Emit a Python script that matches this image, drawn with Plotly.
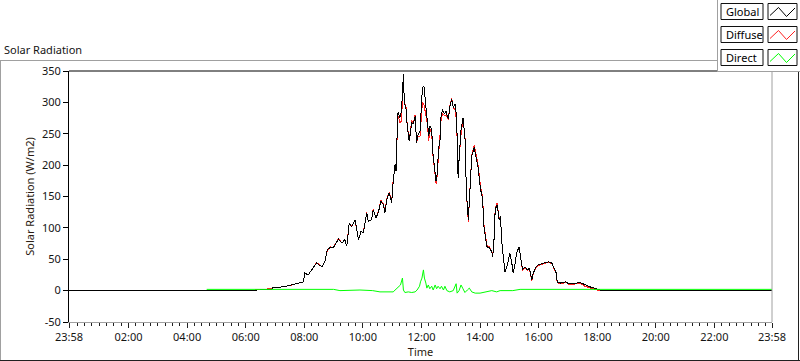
import plotly.graph_objects as go

PREV_DAY = "2024-04-30"
DAY = "2024-05-01"

# ---- data (times HH:MM, first point is 23:58 of previous day) ----
global_time = [
    "23:58", "06:09", "06:29", "06:53", "06:56", "07:17", "07:34", "07:51", "07:58",
    "08:01", "08:08", "08:15", "08:25", "08:36", "08:42", "08:47", "08:53", "08:59",
    "09:10", "09:17", "09:23", "09:27", "09:32", "09:37", "09:44", "09:51", "09:56",
    "10:01", "10:08", "10:11", "10:18", "10:21", "10:27", "10:32", "10:37", "10:42",
    "10:45", "10:49", "10:54", "10:59", "11:02", "11:06", "11:08", "11:10", "11:12",
    "11:16", "11:19", "11:23", "11:25", "11:28", "11:31", "11:35", "11:38", "11:40",
    "11:43", "11:47", "11:50", "11:53", "11:57", "12:00", "12:02", "12:05", "12:07",
    "12:09", "12:12", "12:15", "12:17", "12:21", "12:23", "12:26", "12:30", "12:32",
    "12:35", "12:38", "12:40", "12:43", "12:47", "12:50", "12:55", "12:58", "13:02",
    "13:05", "13:09", "13:12", "13:14", "13:15", "13:17", "13:21", "13:25", "13:29",
    "13:32", "13:36", "13:39", "13:43", "13:48", "13:52", "13:56", "14:01", "14:05",
    "14:08", "14:14", "14:19", "14:24", "14:26", "14:29", "14:31", "14:35", "14:39",
    "14:42", "14:44", "14:48", "14:51", "14:55", "14:58", "15:01", "15:05", "15:08",
    "15:12", "15:15", "15:20", "15:23", "15:27", "15:32", "15:37", "15:41", "15:46",
    "15:49", "15:55", "15:59", "16:06", "16:13", "16:20", "16:27", "16:31", "16:36",
    "16:38", "16:44", "16:50", "16:56", "17:01", "17:11", "17:25", "17:35", "17:45",
    "17:55", "18:04", "18:10", "23:58",
]
global_val = [
    0, 0, 1, 2, 5, 6, 9, 13, 14,
    28, 25, 33, 44, 38, 46, 65, 69, 68,
    82, 76, 81, 71, 107, 102, 113, 81, 94,
    93, 124, 110, 113, 129, 116, 126, 142, 137,
    124, 145, 156, 140, 174, 201, 190, 246, 284,
    276, 286, 345, 297, 294, 260, 238, 254, 268,
    265, 278, 236, 249, 254, 308, 324, 326, 308,
    292, 270, 246, 262, 257, 222, 204, 174, 185,
    225, 241, 276, 289, 281, 286, 273, 292, 305,
    292, 297, 276, 190, 180, 209, 257, 275, 246,
    158, 113, 156, 214, 228, 209, 196, 161, 148,
    102, 70, 68, 62, 54, 86, 129, 137, 113,
    118, 81, 54, 30, 38, 52, 60, 44, 28,
    44, 60, 70, 54, 33, 38, 33, 36, 17,
    28, 38, 41, 43, 45, 46, 44, 38, 28,
    14, 12, 13, 14, 11, 11, 13, 9, 6,
    4, 1, 0, 0,
]
diffuse_val = [
    0, 0, 2, 3, 5, 6, 9, 13, 14,
    27, 25, 33, 45, 38, 46, 64, 70, 68,
    83, 76, 80, 71, 108, 102, 112, 81, 94,
    93, 125, 110, 113, 130, 116, 127, 144, 138,
    125, 147, 157, 141, 176, 200, 190, 243, 278,
    268, 270, 340, 299, 296, 262, 240, 257, 271,
    267, 280, 235, 246, 246, 292, 300, 296, 290,
    280, 265, 238, 259, 250, 220, 198, 170, 182,
    219, 238, 270, 283, 279, 280, 272, 294, 306,
    292, 288, 268, 194, 182, 209, 249, 272, 249,
    157, 110, 157, 216, 232, 213, 200, 165, 151,
    105, 72, 70, 62, 55, 87, 131, 140, 115,
    118, 81, 54, 30, 38, 52, 60, 44, 28,
    44, 60, 69, 53, 32, 37, 32, 35, 16,
    27, 37, 40, 42, 44, 45, 43, 37, 27,
    13, 11, 12, 13, 10, 10, 11, 7, 4,
    2, 0, 0, 0,
]

direct_time = [
    "04:40", "06:09", "08:53", "09:00", "09:13", "09:54", "10:20", "10:35", "11:02",
    "11:06", "11:12", "11:17", "11:21", "11:23", "11:26", "11:33", "11:40", "11:47",
    "11:51", "11:56", "11:58", "12:01", "12:04", "12:06", "12:09", "12:11", "12:14",
    "12:17", "12:21", "12:24", "12:28", "12:31", "12:34", "12:38", "12:41", "12:45",
    "12:48", "12:52", "12:58", "13:05", "13:11", "13:13", "13:17", "13:21", "13:25",
    "13:29", "13:34", "13:38", "13:43", "13:50", "14:00", "14:07", "14:14", "14:24",
    "14:34", "14:41", "15:07", "15:22", "23:58",
]
direct_val = [
    2, 2, 2, 2, 0, 1, 0, -2, -2,
    1, 6, 9, 20, 1, -3, -2, -3, -2,
    1, 7, 14, 20, 33, 20, 12, 4, 9,
    3, 7, 1, 9, 3, 7, 3, 7, 1,
    7, 0, -2, 0, 11, -4, 0, 9, 3,
    -3, 1, 4, -2, -4, -4, -3, -2, 0,
    -2, 0, 0, 2, 2,
]

x_tick_labels = ["23:58", "02:00", "04:00", "06:00", "08:00", "10:00", "12:00",
                 "14:00", "16:00", "18:00", "20:00", "22:00", "23:58"]
y_tick_vals = [-50, 0, 50, 100, 150, 200, 250, 300, 350]
y_tick_labels = ["-50", "0", "50", "100", "150", "200", "250", "300", "350"]

series_names = ["Global", "Diffuse", "Direct"]
series_colors = ["#000000", "#ff2020", "#00ff00"]


def full_times(times, first_prev=False):
    out = []
    for i, t in enumerate(times):
        day = PREV_DAY if (first_prev and i == 0) else DAY
        out.append(f"{day} {t}")
    return out


gx = full_times(global_time, first_prev=True)
dx = full_times(direct_time)

tick_vals = [f"{PREV_DAY} 23:58"] + [f"{DAY} {lbl}" for lbl in x_tick_labels[1:-1]] + [f"{DAY} 23:58"]

FONT = "Noto Sans"
TXT = "#141414"

fig = go.Figure()
# draw order: diffuse under global, direct on top
fig.add_trace(go.Scatter(x=gx, y=diffuse_val, mode="lines", name=series_names[1],
                         line=dict(color=series_colors[1], width=1), showlegend=False))
fig.add_trace(go.Scatter(x=gx, y=global_val, mode="lines", name=series_names[0],
                         line=dict(color=series_colors[0], width=1), showlegend=False))
fig.add_trace(go.Scatter(x=dx, y=direct_val, mode="lines", name=series_names[2],
                         line=dict(color=series_colors[2], width=1), showlegend=False))

# ---- pixel helpers for decorations (plot area: x 69..772, y 71..322) ----
L, R, T, B = 69, 772, 71, 322


def px(x):
    return (x - L) / (R - L)


def py(y):
    return (B - y) / (B - T)


shapes = []
# outer frame (gray top/left, dark bottom/right)
shapes.append(dict(type="line", xref="paper", yref="paper", x0=px(0), x1=px(800), y0=py(60.5), y1=py(60.5),
                   line=dict(color="#a0a0a0", width=1)))
shapes.append(dict(type="line", xref="paper", yref="paper", x0=px(0.5), x1=px(0.5), y0=py(60.5), y1=py(361),
                   line=dict(color="#a0a0a0", width=1)))
shapes.append(dict(type="line", xref="paper", yref="paper", x0=px(0), x1=px(800), y0=py(360.5), y1=py(360.5),
                   line=dict(color="#202020", width=1)))
shapes.append(dict(type="line", xref="paper", yref="paper", x0=px(798.5), x1=px(798.5), y0=py(60), y1=py(361),
                   line=dict(color="#202020", width=1)))
# plot frame: top black, right gray
shapes.append(dict(type="line", xref="paper", yref="paper", x0=0, x1=1, y0=1, y1=1,
                   line=dict(color="#000000", width=1)))
shapes.append(dict(type="line", xref="paper", yref="paper", x0=1, x1=1, y0=0, y1=1,
                   line=dict(color="#a0a0a0", width=1)))
# legend panel
shapes.append(dict(type="rect", xref="paper", yref="paper", x0=px(717.5), x1=px(801), y0=py(71.5), y1=py(-1),
                   fillcolor="white", line=dict(color="#a0a0a0", width=1), layer="above"))

annotations = []
row_tops = [3.5, 26.5, 49.5]
for name, color, top in zip(series_names, series_colors, row_tops):
    bot = top + 16
    shapes.append(dict(type="rect", xref="paper", yref="paper", x0=px(721), x1=px(763), y0=py(bot), y1=py(top),
                       fillcolor="white", line=dict(color="#101010", width=1), layer="above"))
    shapes.append(dict(type="rect", xref="paper", yref="paper", x0=px(768), x1=px(797), y0=py(bot), y1=py(top),
                       fillcolor="white", line=dict(color="#101010", width=1), layer="above"))
    pts = [(770, top + 12), (778.5, top + 4), (786.5, top + 13), (795, top + 4.5)]
    path = "M " + " L ".join(f"{px(a):.5f},{py(b):.5f}" for a, b in pts)
    shapes.append(dict(type="path", xref="paper", yref="paper", path=path,
                       line=dict(color=color, width=1), layer="above"))
    annotations.append(dict(text=name, xref="paper", yref="paper", x=px(723.5), y=py(top + 8),
                            xanchor="left", yanchor="middle", showarrow=False,
                            font=dict(family=FONT, size=11, color="#000000")))

fig.update_layout(
    width=800, height=361, autosize=False,
    margin=dict(l=L, r=800 - R, t=T, b=361 - B, pad=0, autoexpand=False),
    paper_bgcolor="white", plot_bgcolor="white",
    font=dict(family=FONT, size=11, color=TXT),
    title=dict(text="Solar Radiation", x=4 / 800, y=1 - 50 / 361, xref="container", yref="container",
               xanchor="left", yanchor="middle", font=dict(family=FONT, size=11, color=TXT)),
    shapes=shapes, annotations=annotations,
    showlegend=False,
)
fig.update_xaxes(
    type="date", range=[tick_vals[0], tick_vals[-1]], automargin=False,
    tickmode="array", tickvals=tick_vals, ticktext=x_tick_labels,
    ticks="outside", ticklen=5, tickwidth=1, tickcolor="#202020",
    showline=True, linecolor="#a0a0a0", linewidth=1,
    showgrid=False, zeroline=False,
    tickfont=dict(family=FONT, size=11, color=TXT),
    minor=dict(tickmode="linear", tick0=f"{DAY} 00:00", dtick=900000, ticks="outside", ticklen=3,
               tickcolor="#202020", showgrid=False),
    title=dict(text="Time", standoff=3, font=dict(family=FONT, size=11, color="#2a1a10")),
)
fig.update_yaxes(
    range=[-50, 350], automargin=False, tickmode="array", tickvals=y_tick_vals, ticktext=y_tick_labels,
    ticks="outside", ticklen=5, tickwidth=1, tickcolor="#000000",
    showline=True, linecolor="#000000", linewidth=1,
    showgrid=False, zeroline=False,
    tickfont=dict(family=FONT, size=11, color=TXT),
    title=dict(text="Solar Radiation (W/m2)", standoff=5, font=dict(family=FONT, size=11, color="#2a1a10")),
)

fig.write_html(
    "out.html",
    config={"displayModeBar": False},
    post_script="document.body.style.margin='0';document.body.style.padding='0';"
                "document.body.style.overflow='hidden';"
                "var tr=document.querySelectorAll('.scatterlayer .trace');"
                "for(var i=0;i<tr.length-1;i++){tr[i].querySelectorAll('path.js-line').forEach("
                "function(p){p.style.shapeRendering='crispEdges';});}",
)
